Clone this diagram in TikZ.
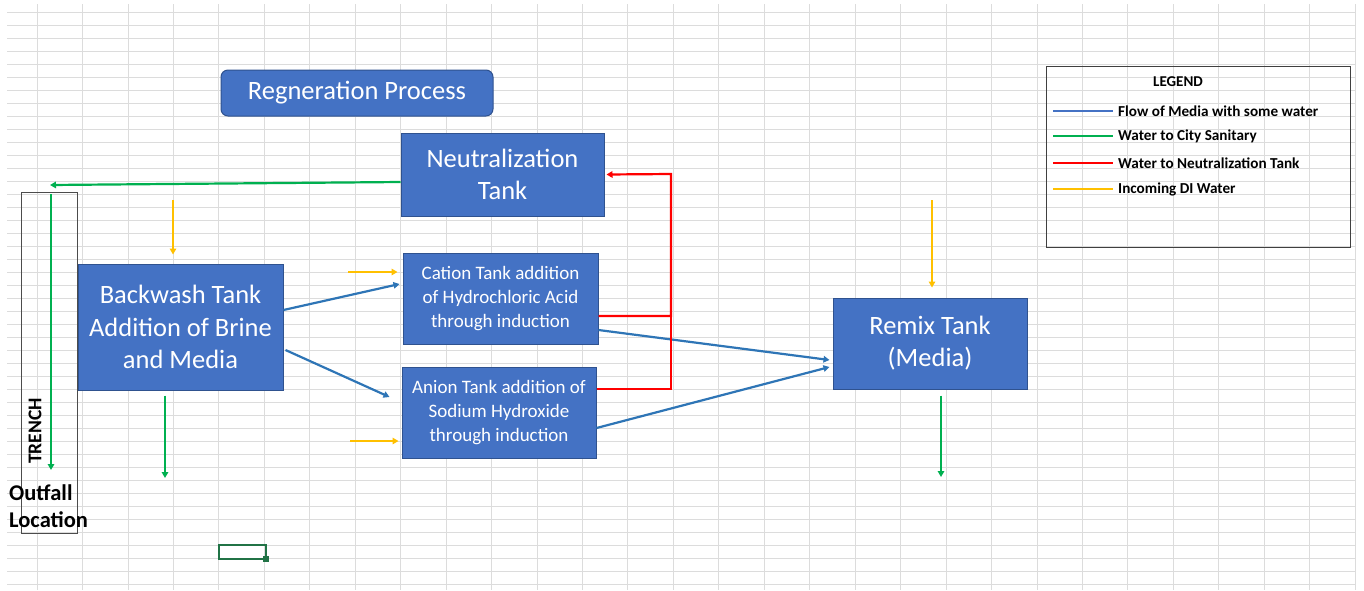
\documentclass[tikz,border=0pt]{standalone}
\usepackage{fontspec}
\setmainfont{Carlito}
\usetikzlibrary{positioning}
\usetikzlibrary{arrows.meta}

\definecolor{tankfill}{HTML}{4472C4}
\definecolor{tankline}{HTML}{2F528F}
\definecolor{mediablue}{HTML}{2E75B6}
\definecolor{sanigreen}{HTML}{00B050}
\definecolor{acidred}{HTML}{FF0000}
\definecolor{diyellow}{HTML}{FFC000}
\definecolor{cellgreen}{HTML}{217346}
\definecolor{gridgray}{HTML}{DCDCDC}

\tikzset{
	tank/.style={draw=tankline,fill=tankfill,text=white,line width=1pt,align=center,inner sep=0pt},
	flow/.style={line width=2.2pt,-{Triangle[length=6pt,width=6.5pt]}},
	media/.style={flow,draw=mediablue},
	sanitary/.style={flow,draw=sanigreen},
	acid/.style={flow,draw=acidred},
	diwater/.style={flow,draw=diyellow},
	legendtext/.style={anchor=west,inner sep=0pt,font=\bfseries\fontsize{15.2}{18}\selectfont}
}

\begin{document}
\begin{tikzpicture}[x=1pt,y=-1pt]
	\fill[white] (0,0) rectangle (1364,590);
	\useasboundingbox (0,0) rectangle (1364,590);
	%%%%%%%%%%%%%%% sheet grid
	\foreach \k in {0,...,44}
		\draw[gridgray,line width=0.8pt] (7,12+13.02*\k) -- (1355,12+13.02*\k);
	\foreach \k in {0,...,29}
		\draw[gridgray,line width=0.8pt] (37+45.45*\k,4) -- (37+45.45*\k,590);
	%%%%%%%%%%%%%%% tanks
	\node[tank,rounded corners=7pt,minimum width=272pt,minimum height=46pt,font=\fontsize{26.5}{30}\selectfont] (regen) at (357,93) {Regneration Process};
	\node[tank,minimum width=203pt,minimum height=83pt,font=\fontsize{26.5}{32}\selectfont] (neutral) at (502.5,174.5) {Neutralization\\Tank};
	\node[tank,minimum width=205pt,minimum height=126pt,font=\fontsize{26.5}{32.5}\selectfont] (backwash) at (180.5,327) {Backwash Tank\\Addition of Brine\\and Media};
	\node[tank,minimum width=195pt,minimum height=91pt,font=\fontsize{19}{24}\selectfont] (cation) at (500.5,298.5) {Cation Tank addition\\of Hydrochloric Acid\\through induction};
	\node[tank,minimum width=194pt,minimum height=91pt,font=\fontsize{19}{24}\selectfont] (anion) at (499,412.5) {Anion Tank addition of\\Sodium Hydroxide\\through induction};
	\node[tank,minimum width=194pt,minimum height=91pt,font=\fontsize{26.5}{32}\selectfont] (remix) at (930,343.5) {Remix Tank\\(Media)};
	%%%%%%%%%%%%%%% trench
	\node[draw=black!70,line width=1pt,minimum width=56pt,minimum height=341pt,inner sep=0pt] (trench) at (49,362.5) {};
	\node[rotate=90,inner sep=0pt,font=\bfseries\fontsize{19.5}{22}\selectfont] (trenchlabel) at (35,431) {TRENCH};
	\node[anchor=west,align=left,inner sep=0pt,font=\bfseries\fontsize{22.5}{27}\selectfont] (outfall) at (9,506.5) {Outfall\\Location};
	\coordinate (trenchin) at (50,185);
	\coordinate (trenchtop) at (51,194);
	\coordinate (trenchbot) at (51,470);
	%%%%%%%%%%%%%%% legend
	\node[draw=black!75,line width=1pt,minimum width=304pt,minimum height=181pt,inner sep=0pt] (legend) at (1198,156.5) {};
	\node[inner sep=0pt,font=\bfseries\fontsize{15}{18}\selectfont] (legendtitle) at (1178,82) {LEGEND};
	\node[legendtext] (lgmedia) at (1118,111) {Flow of Media with some water};
	\node[legendtext] (lgsani) at (1118,136) {Water to City Sanitary};
	\node[legendtext] (lgacid) at (1118,163) {Water to Neutralization Tank};
	\node[legendtext] (lgdi) at (1118,189) {Incoming DI Water};
	\draw[tankfill,line width=2.2pt] ([xshift=-65pt]lgmedia.west) -- ([xshift=-5pt]lgmedia.west);
	\draw[sanigreen,line width=2.2pt] ([xshift=-65pt]lgsani.west) -- ([xshift=-5pt]lgsani.west);
	\draw[acidred,line width=2.2pt] ([xshift=-65pt]lgacid.west) -- ([xshift=-5pt]lgacid.west);
	\draw[diyellow,line width=2.2pt] ([xshift=-65pt]lgdi.west) -- ([xshift=-5pt]lgdi.west);
	%%%%%%%%%%%%%%% free ends
	\coordinate (diback) at (173,200);
	\coordinate (dication) at (348,272);
	\coordinate (dianion) at (350,441);
	\coordinate (diremix) at (932,200);
	\coordinate (backdrain) at (165,478);
	\coordinate (remixdrain) at (941,477);
	\coordinate (riser) at (671,174);
	%%%%%%%%%%%%%%% flows
	\draw[sanitary] ([yshift=-7.5pt]neutral.west) -- (trenchin);
	\draw[sanitary] (trenchtop) -- (trenchbot);
	\draw[sanitary] ([xshift=-15.5pt,yshift=-5pt]backwash.south) -- (backdrain);
	\draw[sanitary] ([xshift=11pt,yshift=-6pt]remix.south) -- (remixdrain);
	\draw[diwater] (diback) -- ([xshift=-7.5pt,yshift=9pt]backwash.north);
	\draw[diwater] (dication) -- ([xshift=-5pt,yshift=26.5pt]cation.west);
	\draw[diwater] (dianion) -- ([xshift=-3pt,yshift=-28.5pt]anion.west);
	\draw[diwater] (diremix) -- ([xshift=2pt,yshift=10pt]remix.north);
	\draw[media] ([yshift=17pt]backwash.east) -- ([xshift=-3pt,yshift=14.5pt]cation.west);
	\draw[media] ([xshift=2pt,yshift=-23pt]backwash.east) -- ([xshift=-12pt,yshift=15.5pt]anion.west);
	\draw[media] ([yshift=-31.5pt]cation.east) -- ([xshift=-3pt,yshift=-16.5pt]remix.west);
	\draw[media] ([yshift=-15.5pt]anion.east) -- ([xshift=-3pt,yshift=-23.5pt]remix.west);
	\draw[acid] ([yshift=-17.5pt]cation.east) -| (riser) -- ([xshift=2pt]neutral.east);
	\draw[acidred,line width=2.2pt] ([yshift=23.5pt]anion.east) -| (riser);
	%%%%%%%%%%%%%%% selected cell
	\draw[cellgreen,line width=2pt] (219,545) rectangle (266,559);
	\fill[cellgreen] (263,556) rectangle (269,562);
\end{tikzpicture}
\end{document}
